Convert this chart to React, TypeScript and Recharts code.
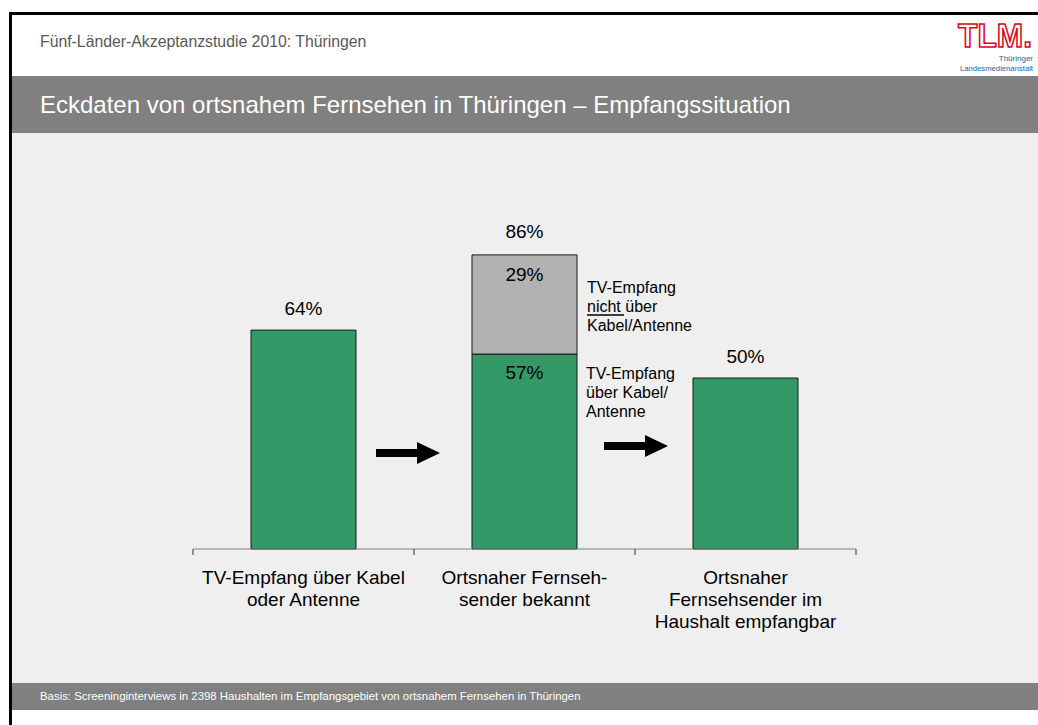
import React from "react";
import { BarChart, Bar, XAxis, YAxis, LabelList } from "recharts";

// Kategorien (mehrzeilige Achsenbeschriftung)
const categories: string[][] = [
  ["TV-Empfang über Kabel", "oder Antenne"],
  ["Ortsnaher Fernseh-", "sender bekannt"],
  ["Ortsnaher", "Fernsehsender im", "Haushalt empfangbar"],
];

// Anteile in %
const viaKabelAntenne = [64, 57, 50];
const nichtKabelAntenne = [0, 29, 0];

const GREEN = "#339966";
const GREY = "#b2b2b2";
const FONT = "'Liberation Sans', Arial, Helvetica, sans-serif";

const W = 1038;
const H = 725;
// untere Marge enthält die Höhe der X-Achse (30px)
const M = { top: 207, right: 182, bottom: 146, left: 193 };
const band = (W - M.left - M.right) / categories.length;

const data = categories.map((c, i) => ({
  name: c.join(" "),
  green: viaKabelAntenne[i],
  grey: nichtKabelAntenne[i],
  total: viaKabelAntenne[i] + nichtKabelAntenne[i],
}));

const CategoryTick = (props: any) => {
  const { x, y, index } = props;
  const lines = categories[index] || [];
  return (
    <g>
      <line x1={x - band / 2} x2={x - band / 2} y1={y} y2={y + 6} stroke="#333" />
      {index === categories.length - 1 && (
        <line x1={x + band / 2} x2={x + band / 2} y1={y} y2={y + 6} stroke="#333" />
      )}
      {lines.map((l, k) => (
        <text key={k} x={x} y={y + 35 + k * 22} textAnchor="middle" fontSize={19} fontFamily={FONT} fill="#000">
          {l}
        </text>
      ))}
    </g>
  );
};

const valueText = (x: number, y: number, v: number) => (
  <text x={x} y={y} textAnchor="middle" fontSize={19} fontFamily={FONT} fill="#000">
    {v}%
  </text>
);

const greenLabel = (props: any) => {
  const { x, y, width, value } = props;
  const d = data.find((e) => e.name === value);
  if (!d) return null;
  const cx = x + width / 2;
  if (d.grey > 0) return valueText(cx, y + 25, d.green);
  return valueText(cx, y - 15, d.total);
};

const greyLabel = (props: any) => {
  const { x, y, width, value } = props;
  const d = data.find((e) => e.name === value);
  if (!d || !d.grey) return null;
  const cx = x + width / 2;
  return (
    <g>
      {valueText(cx, y + 26, d.grey)}
      {valueText(cx, y - 17, d.total)}
    </g>
  );
};

const Arrow = ({ x, y }: { x: number; y: number }) => (
  <polygon
    points={`${x},${y - 4} ${x + 41},${y - 4} ${x + 41},${y - 11} ${x + 64},${y} ${x + 41},${y + 11} ${x + 41},${y + 4} ${x},${y + 4}`}
    fill="#000"
  />
);

export default function App() {
  return (
    <div style={{ position: "absolute", left: 0, top: 0, width: W, height: H, background: "#fff", fontFamily: FONT, overflow: "hidden" }}>
      {/* Flächen */}
      <div style={{ position: "absolute", left: 12, top: 76, width: W - 12, height: 57, background: "#808080" }} />
      <div style={{ position: "absolute", left: 12, top: 133, width: W - 12, height: 550, background: "#efefef" }} />
      <div style={{ position: "absolute", left: 12, top: 683, width: W - 12, height: 27, background: "#808080" }} />
      <div style={{ position: "absolute", left: 9, top: 12, width: W, height: 3, background: "#000" }} />
      <div style={{ position: "absolute", left: 9, top: 12, width: 3, height: H, background: "#000" }} />

      {/* Texte der Folie */}
      <svg style={{ position: "absolute", left: 0, top: 0 }} width={W} height={H}>
        <text x={40} y={47} fontSize={15.8} fontFamily={FONT} fill="#595959">
          Fünf-Länder-Akzeptanzstudie 2010: Thüringen
        </text>
        <text x={40} y={113} fontSize={24} fontFamily={FONT} fill="#fff">
          Eckdaten von ortsnahem Fernsehen in Thüringen – Empfangssituation
        </text>
        <text x={40} y={700} fontSize={11.4} fontFamily={FONT} fill="#fff">
          Basis: Screeninginterviews in 2398 Haushalten im Empfangsgebiet von ortsnahem Fernsehen in Thüringen
        </text>
        {/* Logo */}
        <text x={958} y={47} fontSize={34} fontWeight="bold" fontFamily={FONT} fill="#fff" stroke="#e2001a" strokeWidth={1.6} textLength={74} lengthAdjust="spacingAndGlyphs">
          TLM.
        </text>
        <text x={1033} y={61} fontSize={8} fontFamily={FONT} fill="#1f5fa8" textAnchor="end">Thüringer</text>
        <text x={960} y={70.5} fontSize={8} fontFamily={FONT} fill="#1f5fa8" textLength={73} lengthAdjust="spacingAndGlyphs">Landesmedienanstalt</text>
      </svg>

      <div style={{ position: "absolute", left: 0, top: 0 }}>
        <BarChart width={W} height={H} data={data} margin={M} barSize={105}>
          <XAxis
            dataKey="name"
            axisLine={{ stroke: "#808080" }}
            tickLine={false}
            tickSize={0}
            tickMargin={0}
            interval={0}
            tick={<CategoryTick />}
          />
          <YAxis hide domain={[0, 100]} />
          <Bar dataKey="green" stackId="a" fill={GREEN} stroke="#1a1a1a" strokeWidth={1} isAnimationActive={false}>
            <LabelList dataKey="name" content={greenLabel} />
          </Bar>
          <Bar dataKey="grey" stackId="a" fill={GREY} stroke="#1a1a1a" strokeWidth={1} isAnimationActive={false}>
            <LabelList dataKey="name" content={greyLabel} />
          </Bar>
        </BarChart>
      </div>

      {/* Pfeile und Erläuterungen */}
      <svg style={{ position: "absolute", left: 0, top: 0, pointerEvents: "none" }} width={W} height={H}>
        <Arrow x={376} y={453} />
        <Arrow x={604} y={446} />
        <g fontSize={16} fontFamily={FONT} fill="#000">
          <text x={587} y={293}>TV-Empfang</text>
          <text x={587} y={312}>nicht über</text>
          <text x={587} y={331}>Kabel/Antenne</text>
          <text x={586} y={379}>TV-Empfang</text>
          <text x={586} y={398}>über Kabel/</text>
          <text x={586} y={417}>Antenne</text>
        </g>
        <line x1={587} x2={624} y1={315} y2={315} stroke="#000" strokeWidth={1.3} />
      </svg>
    </div>
  );
}
